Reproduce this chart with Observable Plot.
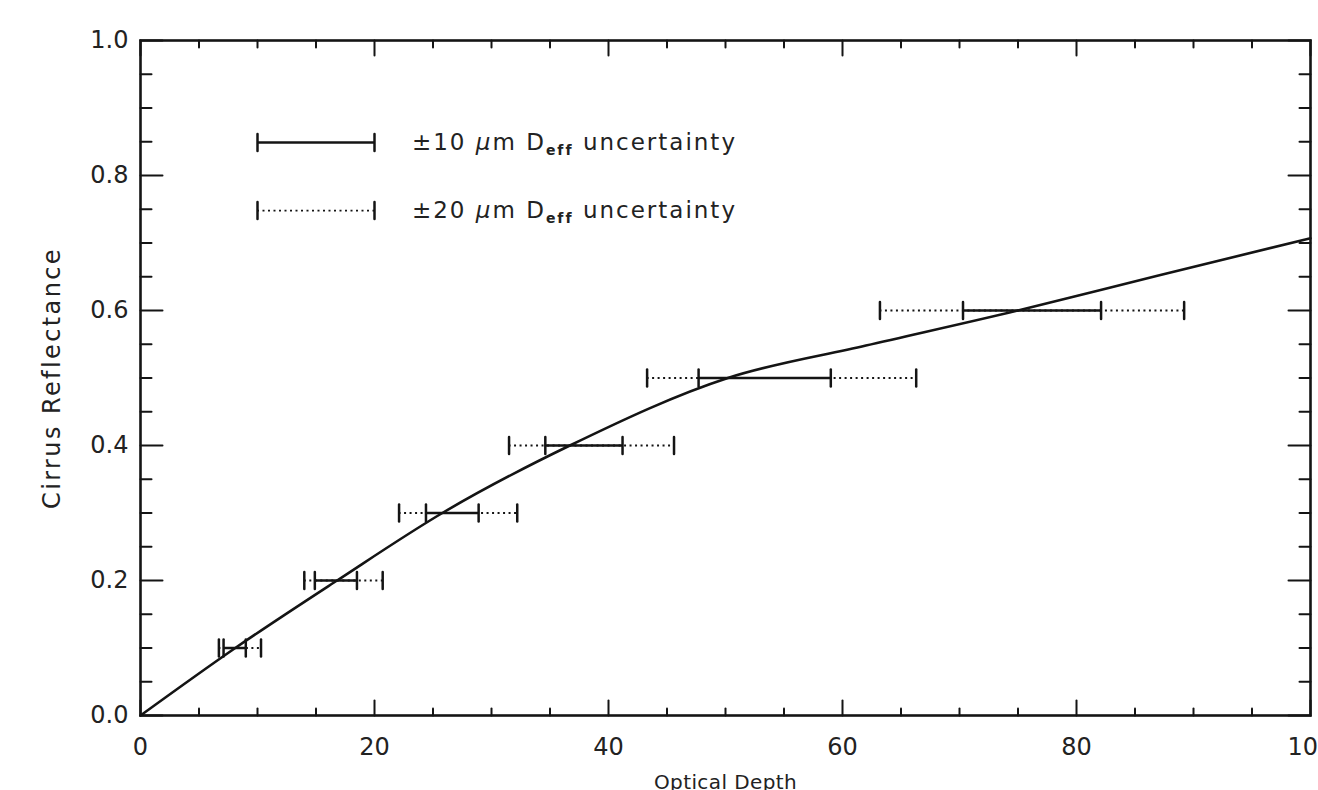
<!DOCTYPE html>
<html><head><meta charset="utf-8">
<script src="https://cdn.jsdelivr.net/npm/d3@7"></script>
<script src="https://cdn.jsdelivr.net/npm/@observablehq/plot@0.6"></script>
<style>
html,body{margin:0;padding:0;background:#fff;overflow:hidden;width:1318px;height:790px;}
#chart svg{display:block;overflow:hidden;}
.ylab text{letter-spacing:2.4px;}
.xlab text{letter-spacing:0.4px;}
.leg text{letter-spacing:2px;}
</style></head><body><div id="chart"></div>
<script>
// Curve: cirrus reflectance vs optical depth
const curveDepth = [0, 8.1, 16.8, 25.8, 36.7, 50.2, 62.0, 75.0, 87.0, 100];
const curveRefl  = [0, 0.1, 0.2, 0.3, 0.4, 0.5, 0.548, 0.6, 0.652, 0.707];

// Error bars at each reflectance level
const barRefl = [0.1, 0.2, 0.3, 0.4, 0.5, 0.6];
const lo20 = [6.7, 14.0, 22.1, 31.5, 43.3, 63.2];
const lo10 = [7.1, 14.9, 24.4, 34.6, 47.7, 70.3];
const hi10 = [9.0, 18.5, 28.9, 41.2, 59.0, 82.1];
const hi20 = [10.3, 20.7, 32.2, 45.6, 66.3, 89.2];

// Legend
const legendRefl = [0.849, 0.748];
const legendStart = [10, 10];
const legendEnd = [20, 20];
const legendValue = ["±10", "±20"];
const legendTextX = 23.2;

// Ticks
const xMajor = [0, 20, 40, 60, 80, 100];
const xMinor = [5, 10, 15, 25, 30, 35, 45, 50, 55, 65, 70, 75, 85, 90, 95];
const yMajor = [0, 0.2, 0.4, 0.6, 0.8, 1.0];
const yMinor = [0.05, 0.1, 0.15, 0.25, 0.3, 0.35, 0.45, 0.5, 0.55, 0.65, 0.7, 0.75, 0.85, 0.9, 0.95];

const curve = curveDepth.map((d, i) => ({x: d, y: curveRefl[i]}));
const bars = barRefl.map((y, i) => ({y, lo20: lo20[i], lo10: lo10[i], hi10: hi10[i], hi20: hi20[i]}));
const legend = legendRefl.map((y, i) => ({y, x1: legendStart[i], x2: legendEnd[i], label: legendValue[i]}));

const ink = "#141414";
const tickShape = {draw(context, l) { context.moveTo(0, 0); context.lineTo(0, -l); }};

function ticks(data, side, len, sw) {
  const o = {length: len, anchor: "start", shape: tickShape, stroke: ink, strokeWidth: sw};
  if (side === "bottom") return Plot.vector(data, {...o, x: d => d, y: 0, rotate: 0});
  if (side === "top") return Plot.vector(data, {...o, x: d => d, y: 1, rotate: 180});
  if (side === "left") return Plot.vector(data, {...o, y: d => d, x: 0, rotate: 90});
  return Plot.vector(data, {...o, y: d => d, x: 100, rotate: -90});
}

function caps(data, key, sw) {
  return Plot.vector(data, {x: key, y: "y", length: 17, rotate: 0, anchor: "middle", shape: tickShape, stroke: ink, strokeWidth: sw});
}

const chart = Plot.plot({
  width: 1318,
  height: 790,
  marginLeft: 140,
  marginRight: 8,
  marginTop: 40,
  marginBottom: 75,
  style: {fontFamily: "DejaVu Sans", fontSize: "24px", color: "#222", background: "#fff"},
  x: {domain: [0, 100], ticks: xMajor, tickSize: 0, tickPadding: 22, label: null, tickFormat: d => String(d)},
  y: {domain: [0, 1], ticks: yMajor, tickSize: 0, tickPadding: 12, label: null, tickFormat: d3.format(".1f")},
  marks: [
    // error bars
    Plot.ruleY(bars, {y: "y", x1: "lo20", x2: "hi20", stroke: ink, strokeWidth: 1.8, strokeDasharray: "2,3.5"}),
    Plot.ruleY(bars, {y: "y", x1: "lo10", x2: "hi10", stroke: ink, strokeWidth: 2.5}),
    caps(bars, "lo20", 2.5), caps(bars, "hi20", 2.5),
    caps(bars, "lo10", 2.5), caps(bars, "hi10", 2.5),
    // curve
    Plot.line(curve, {x: "x", y: "y", curve: "monotone-x", stroke: ink, strokeWidth: 2.6}),
    // legend
    Plot.ruleY(legend.slice(0, 1), {y: "y", x1: "x1", x2: "x2", stroke: ink, strokeWidth: 2.5}),
    Plot.ruleY(legend.slice(1), {y: "y", x1: "x1", x2: "x2", stroke: ink, strokeWidth: 1.8, strokeDasharray: "2,3.5"}),
    caps(legend, "x1", 2.5), caps(legend, "x2", 2.5),
    Plot.text(legend, {x: () => legendTextX, y: "y", text: "label", textAnchor: "start", fontSize: 23, fill: "#222", className: "leg"}),
    // axis ticks (inward, all four sides)
    ticks(xMajor, "bottom", 15, 2), ticks(xMinor, "bottom", 7, 2),
    ticks(xMajor, "top", 15, 2), ticks(xMinor, "top", 7, 2),
    ticks(yMajor, "left", 22, 2), ticks(yMinor, "left", 11, 2),
    ticks(yMajor, "right", 22, 2), ticks(yMinor, "right", 11, 2),
    Plot.frame({stroke: ink, strokeWidth: 2.6}),
    // axis titles
    Plot.text(["Optical Depth"], {frameAnchor: "bottom", lineAnchor: "middle", textAnchor: "middle", dy: 67, fontSize: 20, fill: "#222", className: "xlab"}),
    Plot.text(["Cirrus Reflectance"], {frameAnchor: "left", lineAnchor: "middle", textAnchor: "middle", dx: -88, rotate: -90, fontSize: 24, fill: "#222", className: "ylab"})
  ]
});

// Legend text with italic mu and subscript "eff"
d3.select(chart).selectAll(".leg text").each(function() {
  const t = d3.select(this);
  const val = t.text();
  t.text(null);
  t.append("tspan").text(val + " ");
  t.append("tspan").attr("font-style", "italic").text("μ");
  t.append("tspan").text("m D");
  t.append("tspan").attr("font-size", 14).attr("font-weight", "bold").attr("dy", 5).text("eff");
  t.append("tspan").attr("dy", -5).text(" uncertainty");
});

document.getElementById("chart").appendChild(chart);
</script>
</body></html>
